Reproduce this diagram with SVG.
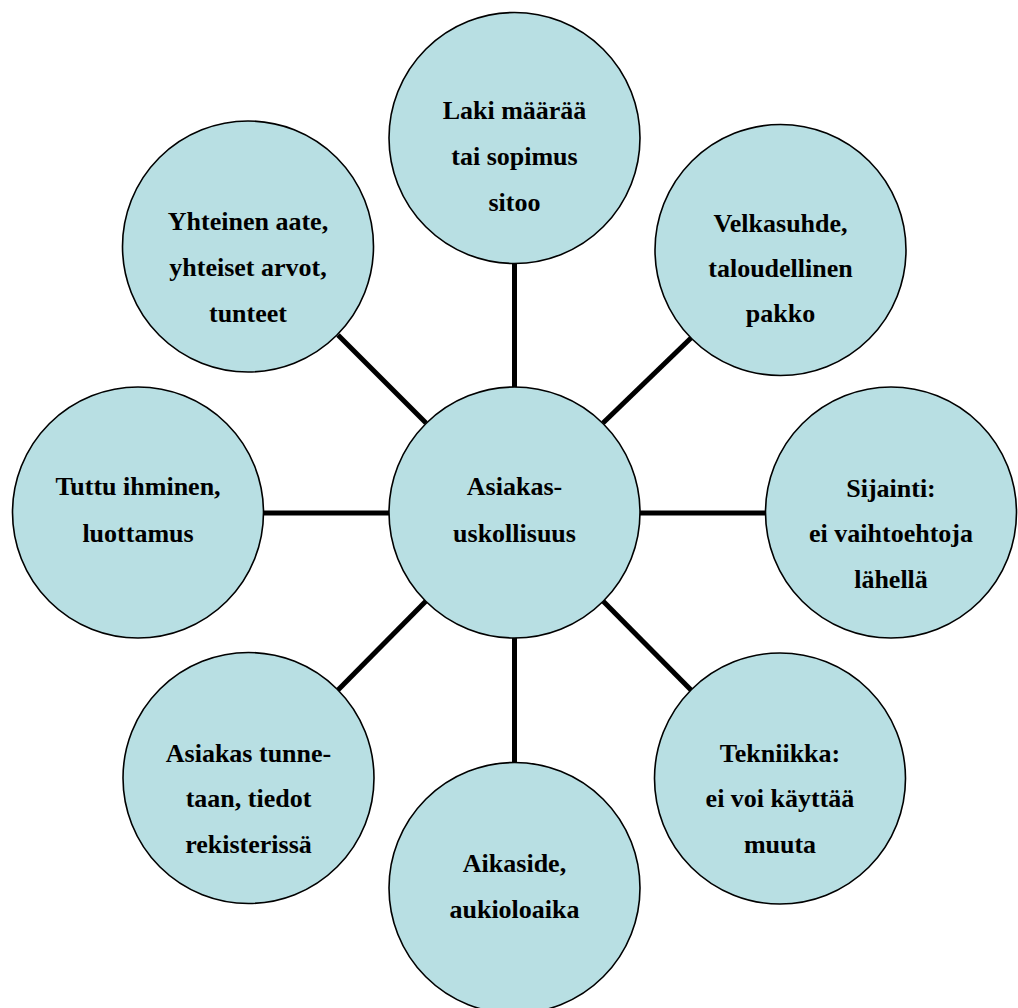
<svg xmlns="http://www.w3.org/2000/svg" width="1018" height="1008" viewBox="0 0 1018 1008">
<style>
.node circle{fill:#B8DFE3;stroke:#000;stroke-width:1.6}
.node text{font-family:"Liberation Serif","Times New Roman",serif;font-weight:bold;font-size:26px;fill:#000;text-anchor:middle}
.conn line{stroke:#000;stroke-width:5}
</style>
<rect width="1018" height="1008" fill="#fff"/>
<g id="connectors" class="conn">
<line x1="514.5" y1="262" x2="514.5" y2="388"/>
<line x1="514.5" y1="637" x2="514.5" y2="763"/>
<line x1="263" y1="513" x2="390" y2="513"/>
<line x1="639" y1="513" x2="766" y2="513"/>
<line x1="691" y1="338" x2="603" y2="423"/>
<line x1="338" y1="335" x2="426" y2="423"/>
<line x1="426" y1="601" x2="338" y2="690"/>
<line x1="603" y1="601" x2="691" y2="690"/>
</g>
<g id="n-center" class="node">
<circle cx="514.5" cy="512.5" r="125.5"/>
<text x="514.5" y="495">Asiakas-</text>
<text x="514.5" y="542">uskollisuus</text>
</g>
<g id="n-top" class="node">
<circle cx="514.5" cy="138" r="125.5"/>
<text x="514.5" y="119">Laki määrää</text>
<text x="514.5" y="165">tai sopimus</text>
<text x="514.5" y="211">sitoo</text>
</g>
<g id="n-topright" class="node">
<circle cx="780.5" cy="250" r="125.5"/>
<text x="780.5" y="232">Velkasuhde,</text>
<text x="780.5" y="277">taloudellinen</text>
<text x="780.5" y="322">pakko</text>
</g>
<g id="n-right" class="node">
<circle cx="891" cy="512.5" r="125.5"/>
<text x="891" y="497">Sijainti:</text>
<text x="891" y="542">ei vaihtoehtoja</text>
<text x="891" y="588">lähellä</text>
</g>
<g id="n-bottomright" class="node">
<circle cx="780" cy="778.5" r="125.5"/>
<text x="780" y="762">Tekniikka:</text>
<text x="780" y="807">ei voi käyttää</text>
<text x="780" y="853">muuta</text>
</g>
<g id="n-bottom" class="node">
<circle cx="514.5" cy="888" r="125.5"/>
<text x="514.5" y="872">Aikaside,</text>
<text x="514.5" y="918">aukioloaika</text>
</g>
<g id="n-bottomleft" class="node">
<circle cx="248.5" cy="778" r="125.5"/>
<text x="248.5" y="762">Asiakas tunne-</text>
<text x="248.5" y="807">taan, tiedot</text>
<text x="248.5" y="853">rekisterissä</text>
</g>
<g id="n-left" class="node">
<circle cx="138" cy="512.5" r="125.5"/>
<text x="138" y="495">Tuttu ihminen,</text>
<text x="138" y="542">luottamus</text>
</g>
<g id="n-topleft" class="node">
<circle cx="248" cy="246.5" r="125.5"/>
<text x="248" y="230">Yhteinen aate,</text>
<text x="248" y="276">yhteiset arvot,</text>
<text x="248" y="322">tunteet</text>
</g>
</svg>
